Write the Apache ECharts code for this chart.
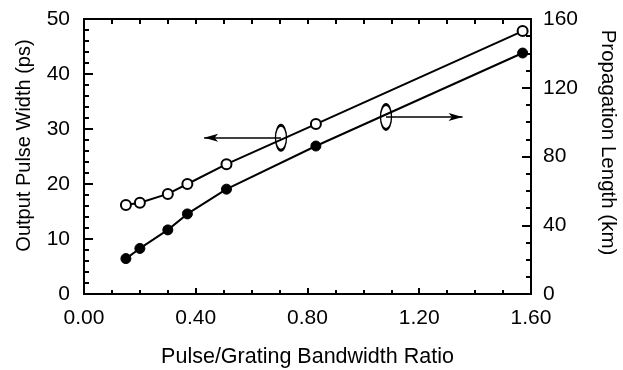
<!DOCTYPE html>
<html>
<head>
<meta charset="utf-8">
<script src="https://cdn.jsdelivr.net/npm/echarts@6/dist/echarts.min.js"></script>
<style>
html, body { margin: 0; padding: 0; background: #fff; }
#chart { width: 623px; height: 370px; }
</style>
</head>
<body>
<div id="chart"></div>
<script>
// bandwidth ratio (x) shared by both curves
var ratio = [0.15, 0.20, 0.30, 0.37, 0.51, 0.83, 1.57];
// open circles -> left axis, output pulse width (ps)
var pulseWidth = [16.2, 16.6, 18.2, 20.0, 23.6, 30.9, 47.8];
// filled circles -> right axis, propagation length (km)
var propLength = [20.6, 26.5, 37.3, 46.6, 61.0, 86.1, 140.2];

var xTicks = ['0.00', '0.40', '0.80', '1.20', '1.60'];

// annotation: ellipse + arrow pointing to the axis the curve belongs to
var leftNote = { x: 0.705, y: 28.4, arrowTo: 0.43 };
var rightNote = { x: 1.081, y: 103, arrowTo: 1.355 };

var FONT = 'Liberation Sans';
var INK = '#000';

function pairs(xs, ys) {
	var out = [];
	for (var i = 0; i < xs.length; i++) out.push([xs[i], ys[i]]);
	return out;
}

var chart = echarts.init(document.getElementById('chart'), null, { renderer: 'canvas' });

var tickLabel = { color: INK, fontFamily: FONT, fontSize: 21 };

var option = {
	animation: false,
	backgroundColor: '#fff',
	grid: { left: 84, right: 92, top: 19, bottom: 76, outerBoundsMode: 'none' },
	xAxis: [{
		type: 'value',
		min: 0, max: 1.6, interval: 0.4,
		position: 'bottom',
		name: 'Pulse/Grating Bandwidth Ratio',
		nameLocation: 'middle',
		nameGap: 52,
		nameTextStyle: { color: INK, fontFamily: FONT, fontSize: 21.5 },
		axisLine: { onZero: false, lineStyle: { color: INK, width: 2 } },
		axisTick: { inside: true, length: 6, lineStyle: { color: INK, width: 2 } },
		minorTick: { show: true, splitNumber: 4, length: 4, lineStyle: { color: INK, width: 2 } },
		axisLabel: Object.assign({ margin: 14, formatter: function (v) {
			var i = Math.round(v / 0.4);
			return xTicks[i] || '';
		} }, tickLabel),
		splitLine: { show: false }
	}, {
		type: 'value',
		min: 0, max: 1.6, interval: 0.1,
		position: 'top',
		axisLine: { onZero: false, lineStyle: { color: INK, width: 2 } },
		axisTick: { inside: true, length: 5, lineStyle: { color: INK, width: 2 } },
		axisLabel: { show: false },
		splitLine: { show: false }
	}],
	yAxis: [{
		type: 'value',
		min: 0, max: 50, interval: 10,
		position: 'left',
		name: 'Output Pulse Width (ps)',
		nameLocation: 'middle',
		nameRotate: 90,
		nameGap: 50,
		nameTextStyle: { color: INK, fontFamily: FONT, fontSize: 20, padding: [0, 0, 0, 22] },
		axisLine: { show: true, onZero: false, lineStyle: { color: INK, width: 2 } },
		axisTick: { show: true, inside: true, length: 9, lineStyle: { color: INK, width: 2 } },
		minorTick: { show: true, splitNumber: 5, length: 5, lineStyle: { color: INK, width: 2 } },
		axisLabel: Object.assign({ margin: 14 }, tickLabel),
		splitLine: { show: false }
	}, {
		type: 'value',
		min: 0, max: 160, interval: 40,
		position: 'right',
		name: 'Propagation Length (km)',
		nameLocation: 'middle',
		nameRotate: -90,
		nameGap: 66,
		nameTextStyle: { color: INK, fontFamily: FONT, fontSize: 20.5, padding: [0, 28, 0, 0] },
		axisLine: { show: true, onZero: false, lineStyle: { color: INK, width: 2 } },
		axisTick: { show: true, inside: true, length: 9, lineStyle: { color: INK, width: 2 } },
		minorTick: { show: true, splitNumber: 4, length: 5, lineStyle: { color: INK, width: 2 } },
		axisLabel: Object.assign({ margin: 12 }, tickLabel),
		splitLine: { show: false }
	}],
	series: [{
		name: 'pulse width',
		type: 'line',
		xAxisIndex: 0,
		yAxisIndex: 0,
		data: pairs(ratio, pulseWidth),
		symbol: 'circle',
		symbolSize: 10,
		lineStyle: { color: INK, width: 2 },
		itemStyle: { color: '#fff', borderColor: INK, borderWidth: 2 },
		z: 3,
		markPoint: {
			silent: true,
			symbol: 'circle',
			symbolSize: [11, 25],
			label: { show: false },
			itemStyle: { color: 'rgba(0,0,0,0)', borderColor: INK, borderWidth: 2 },
			data: [{ coord: [leftNote.x, leftNote.y] }]
		},
		markLine: {
			silent: true,
			symbol: ['none', 'arrow'],
			symbolSize: [6, 14],
			label: { show: false },
			lineStyle: { color: INK, width: 1.5, type: 'solid' },
			data: [[{ coord: [leftNote.x, leftNote.y] }, { coord: [leftNote.arrowTo, leftNote.y] }]]
		}
	}, {
		name: 'propagation length',
		type: 'line',
		xAxisIndex: 0,
		yAxisIndex: 1,
		data: pairs(ratio, propLength),
		symbol: 'circle',
		symbolSize: 10,
		lineStyle: { color: INK, width: 2 },
		itemStyle: { color: INK, borderColor: INK, borderWidth: 1 },
		z: 3,
		markPoint: {
			silent: true,
			symbol: 'circle',
			symbolSize: [11, 25],
			label: { show: false },
			itemStyle: { color: 'rgba(0,0,0,0)', borderColor: INK, borderWidth: 2 },
			data: [{ coord: [rightNote.x, rightNote.y] }]
		},
		markLine: {
			silent: true,
			symbol: ['none', 'arrow'],
			symbolSize: [6, 14],
			label: { show: false },
			lineStyle: { color: INK, width: 1.5, type: 'solid' },
			data: [[{ coord: [rightNote.x, rightNote.y] }, { coord: [rightNote.arrowTo, rightNote.y] }]]
		}
	}]
};

chart.setOption(option);
</script>
</body>
</html>
